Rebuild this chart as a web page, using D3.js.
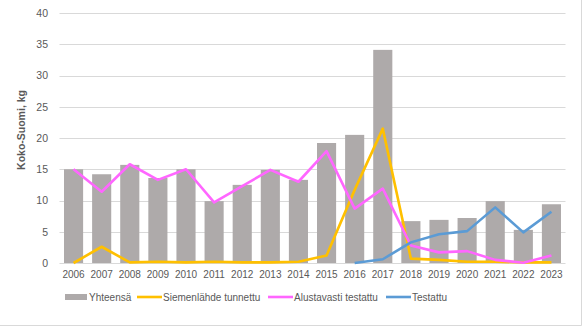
<!DOCTYPE html>
<html><head><meta charset="utf-8">
<script src="https://cdn.jsdelivr.net/npm/d3@7"></script>
<style>body{margin:0;background:#fff}svg{display:block}</style>
</head><body>
<script>
const years = ["2006","2007","2008","2009","2010","2011","2012","2013","2014","2015","2016","2017","2018","2019","2020","2021","2022","2023"];
const yhteensa = [15.0,14.2,15.7,13.6,15.0,9.9,12.5,14.9,13.3,19.2,20.5,34.1,6.7,6.9,7.2,9.9,5.3,9.4];
const siemenlahde = [0,2.6,0.1,0.2,0.1,0.2,0.1,0.1,0.2,1.2,11.7,21.5,0.7,0.5,0.2,0.2,0.1,0.1];
const alustavasti = [15.0,11.4,15.8,13.3,15.0,9.7,12.3,14.9,13.0,17.9,8.7,11.9,2.8,1.7,1.9,0.5,0.05,1.2];
const testattu = [null,null,null,null,null,null,null,null,null,null,0,0.6,3.3,4.6,5.1,8.9,4.9,8.2];
const yTicks = [0,5,10,15,20,25,30,35,40];
const seriesNames = ["Yhteensä","Siemenlähde tunnettu","Alustavasti testattu","Testattu"];

const W=583,H=328;
const svg=d3.select("body").append("svg").attr("width",W).attr("height",H);
const font="'Liberation Sans', Arial, sans-serif";
const x=d3.scaleBand().domain(years).range([59.5,565.5]).paddingInner(0.32).paddingOuter(0.16);
const y=d3.scaleLinear().domain([0,40]).range([263,13]);

// border
svg.append("line").attr("x1",581.5).attr("x2",581.5).attr("y1",0).attr("y2",325.5).attr("stroke","#d9d9d9");
svg.append("line").attr("x1",0).attr("x2",581.5).attr("y1",325.5).attr("y2",325.5).attr("stroke","#d9d9d9");

// grid
svg.append("g").selectAll("line").data(yTicks).join("line")
  .attr("x1",59.5).attr("x2",565.5)
  .attr("y1",d=>Math.round(y(d))+0.5).attr("y2",d=>Math.round(y(d))+0.5)
  .attr("stroke","#d9d9d9").attr("stroke-width",1);

// y axis labels
const yAxis=d3.axisLeft(y).tickValues(yTicks).tickSize(0).tickPadding(0);
const gy=svg.append("g").attr("transform","translate(48,0)").call(yAxis);
gy.select(".domain").remove();
gy.selectAll("text").attr("font-family",font).attr("font-size","10.5px").attr("fill","#595959");

// bars
svg.append("g").selectAll("rect").data(years).join("rect")
  .attr("x",d=>x(d)).attr("width",x.bandwidth())
  .attr("y",(d,i)=>y(yhteensa[i])).attr("height",(d,i)=>y(0)-y(yhteensa[i]))
  .attr("fill","#aeaaaa");

// x axis labels
const xAxis=d3.axisBottom(x).tickSize(0).tickPadding(0);
const gx=svg.append("g").attr("transform","translate(0,271)").call(xAxis);
gx.select(".domain").remove();
gx.selectAll("text").attr("font-family",font).attr("font-size","10px").attr("fill","#595959");

// lines
const cx=d=>x(d)+x.bandwidth()/2;
const line=d3.line().defined(d=>d[1]!=null).x(d=>cx(d[0])).y(d=>y(d[1]));
const lineSeries=[[siemenlahde,"#ffc000"],[alustavasti,"#ff66ff"],[testattu,"#5b9bd5"]];
lineSeries.forEach(([vals,col])=>{
  svg.append("path").datum(years.map((yr,i)=>[yr,vals[i]]))
    .attr("d",line).attr("fill","none").attr("stroke",col).attr("stroke-width",2.6)
    .attr("stroke-linejoin","round");
});

// y title
svg.append("text").attr("transform","translate(25,130) rotate(-90)")
  .attr("text-anchor","middle").attr("font-family",font).attr("font-weight","bold")
  .attr("font-size","10.5px").attr("fill","#595959").text("Koko-Suomi, kg");

// legend
const lg=svg.append("g");
const ly=297;
const legendItems=[
  {name:seriesNames[0],type:"rect",col:"#aeaaaa",x0:65},
  {name:seriesNames[1],type:"line",col:"#ffc000",x0:137},
  {name:seriesNames[2],type:"line",col:"#ff66ff",x0:268},
  {name:seriesNames[3],type:"line",col:"#5b9bd5",x0:386}
];
legendItems.forEach(it=>{
  if(it.type==="rect") lg.append("rect").attr("x",it.x0).attr("y",ly-3).attr("width",22).attr("height",6).attr("fill",it.col);
  else lg.append("line").attr("x1",it.x0).attr("x2",it.x0+25).attr("y1",ly).attr("y2",ly).attr("stroke",it.col).attr("stroke-width",2.6);
  lg.append("text").attr("x",it.x0+(it.type==="rect"?24:26)).attr("y",ly+3.5)
    .attr("font-family",font).attr("font-size","10px").attr("fill","#595959").text(it.name);
});
</script>
</body></html>
